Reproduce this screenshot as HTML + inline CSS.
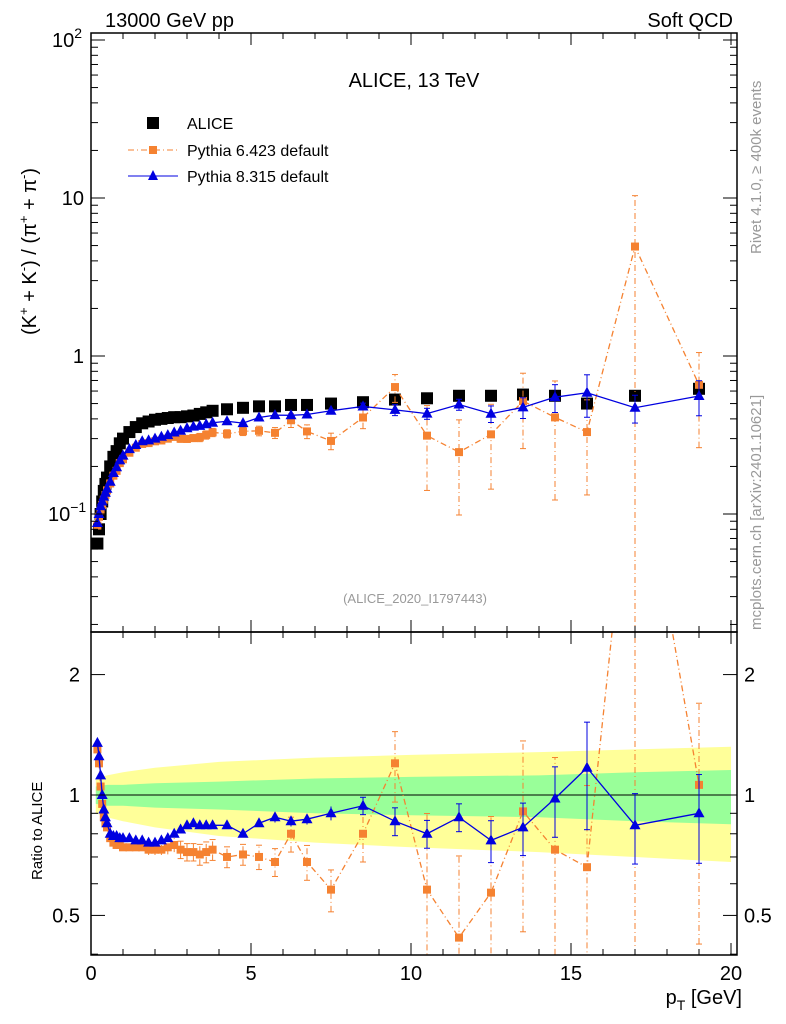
<!DOCTYPE html>
<html><head><meta charset="utf-8"><style>
html,body{margin:0;background:#fff;overflow:hidden;width:786px;height:1024px;}
svg{display:block;font-family:"Liberation Sans",sans-serif;}
</style></head><body>
<svg id="c" width="786" height="1024" viewBox="0 0 786 1024">
<text x="105" y="27" font-size="20">13000 GeV pp</text>
<text x="733" y="27" font-size="20" text-anchor="end">Soft QCD</text>
<text x="414" y="87" font-size="20" text-anchor="middle">ALICE, 13 TeV</text>
<text x="415" y="603" font-size="13" fill="#999" text-anchor="middle">(ALICE_2020_I1797443)</text>
<text transform="translate(761,254) rotate(-90)" font-size="15" fill="#999">Rivet 4.1.0, ≥ 400k events</text>
<text transform="translate(761,630) rotate(-90)" font-size="15" fill="#999">mcplots.cern.ch [arXiv:2401.10621]</text>
<text transform="translate(36,335) rotate(-90)" font-size="20">(K<tspan dy="-8" font-size="13">+</tspan><tspan dy="8"> + K</tspan><tspan dy="-8" font-size="13">-</tspan><tspan dy="8">) / (π</tspan><tspan dy="-8" font-size="13">+</tspan><tspan dy="8"> + π</tspan><tspan dy="-8" font-size="13">-</tspan><tspan dy="8">)</tspan></text>
<text transform="translate(42,880) rotate(-90)" font-size="15">Ratio to ALICE</text>
<text x="742" y="1004" font-size="20" text-anchor="end">p<tspan dy="6" font-size="14">T</tspan><tspan dy="-6"> [GeV]</tspan></text>
<g>
<rect x="147" y="117" width="12" height="12" fill="#000"/>
<text x="187" y="129" font-size="16">ALICE</text>
<line x1="128" y1="150" x2="178" y2="150" stroke="#f58231" stroke-dasharray="6,3,1,3"/>
<rect x="149" y="146" width="8" height="8" fill="#f58231"/>
<text x="187" y="156" font-size="16">Pythia 6.423 default</text>
<line x1="128" y1="176" x2="178" y2="176" stroke="#0000e0"/>
<polygon points="153,170 158,180 148,180" fill="#0000e0"/>
<text x="187" y="182" font-size="16">Pythia 8.315 default</text>
</g>
<g id="g"></g>
</svg>
<script>
const pt=[0.2,0.25,0.3,0.35,0.4,0.45,0.5,0.6,0.7,0.8,0.9,1.0,1.2,1.4,1.6,1.8,2.0,2.2,2.4,2.6,2.8,3.0,3.2,3.4,3.6,3.8,4.25,4.75,5.25,5.75,6.25,6.75,7.5,8.5,9.5,10.5,11.5,12.5,13.5,14.5,15.5,17,19];
const alice=[0.065,0.08,0.1,0.12,0.14,0.155,0.17,0.2,0.23,0.25,0.28,0.3,0.33,0.355,0.375,0.385,0.395,0.4,0.405,0.41,0.41,0.415,0.42,0.43,0.44,0.45,0.46,0.47,0.48,0.48,0.49,0.49,0.5,0.51,0.53,0.54,0.56,0.56,0.57,0.56,0.5,0.56,0.62];
const p8ratio=[1.35,1.25,1.12,1.0,0.92,0.88,0.85,0.8,0.79,0.79,0.78,0.78,0.78,0.77,0.77,0.76,0.76,0.77,0.78,0.8,0.82,0.84,0.85,0.84,0.84,0.84,0.84,0.8,0.85,0.88,0.86,0.87,0.9,0.94,0.86,0.8,0.88,0.77,0.83,0.98,1.17,0.84,0.9];
const p6ratio=[1.3,1.2,1.05,0.95,0.88,0.85,0.83,0.78,0.76,0.75,0.75,0.74,0.74,0.74,0.74,0.73,0.73,0.73,0.74,0.75,0.73,0.72,0.72,0.71,0.72,0.73,0.7,0.71,0.7,0.68,0.8,0.68,0.58,0.8,1.2,0.58,0.44,0.57,0.91,0.73,0.66,8.8,1.06];
const p8err=[0.01,0.01,0.01,0.01,0.01,0.01,0.01,0.01,0.01,0.01,0.01,0.01,0.01,0.01,0.01,0.01,0.01,0.01,0.01,0.01,0.01,0.01,0.01,0.01,0.01,0.01,0.02,0.02,0.02,0.03,0.03,0.03,0.04,0.05,0.08,0.08,0.08,0.12,0.15,0.2,0.3,0.2,0.25];
const p6err=[0.02,0.02,0.02,0.02,0.02,0.02,0.02,0.02,0.02,0.02,0.02,0.02,0.02,0.02,0.02,0.03,0.03,0.03,0.04,0.04,0.05,0.05,0.05,0.06,0.06,0.06,0.06,0.06,0.07,0.08,0.1,0.1,0.12,0.15,0.2,0.55,0.6,0.55,0.5,0.7,0.6,1.1,0.6];
const bandX=[0.15,0.5,1,2,4,7,10,14,17,20];
const greenHalf=[0.05,0.06,0.06,0.07,0.08,0.1,0.11,0.12,0.14,0.155];
const yellowHalf=[0.1,0.12,0.14,0.17,0.21,0.24,0.26,0.28,0.3,0.32];
const X0=91,X1=737,YT=33,YB=632,RT=632,RB=955;
const xs=v=>91+32*v;
const ym=v=>356-158*Math.log10(v);
const yr=v=>795-400*Math.log10(v);
const g=document.getElementById('g');
const NS='http://www.w3.org/2000/svg';
function el(t,a,parent){const e=document.createElementNS(NS,t);for(const k in a)e.setAttribute(k,a[k]);(parent||g).appendChild(e);return e;}
const clipM=el('clipPath',{id:'cm'});el('rect',{x:X0,y:YT,width:X1-X0,height:YB-YT},clipM);
const clipR=el('clipPath',{id:'cr'});el('rect',{x:X0,y:RT,width:X1-X0,height:RB-RT},clipR);
const gm=el('g',{'clip-path':'url(#cm)'});


const gr=el('g',{'clip-path':'url(#cr)'});


function band(h,col,nm){let top=[],bot=[];bandX.forEach((x,i)=>{top.push(xs(x)+','+yr(1+h[i]));bot.unshift(xs(x)+','+yr(1-h[i]));});
const p=el('polygon',{points:top.concat(bot).join(' '),fill:col},gr);

}
band(yellowHalf,'#ffff99','yellow-uncertainty-band');
band(greenHalf,'#99ff99','green-uncertainty-band');
const l1=el('line',{x1:X0,x2:X1,y1:yr(1),y2:yr(1),stroke:'#000'},gr);


function series(ratio,err,col,dash,tri,nm){
  const vals=ratio.map((r,i)=>r*alice[i]);
  [[gm,vals,ym],[gr,ratio,yr]].forEach(([par,v,yf])=>{
    const pl=el('polyline',{points:v.map((y,i)=>xs(pt[i])+','+yf(y)).join(' '),fill:'none',stroke:col,'stroke-width':1.3,'stroke-dasharray':dash},par);
    
    
    v.forEach((y,i)=>{
      const lo=Math.max(y*(1-err[i]),1e-3),hi=y*(1+err[i]);
      const e=el('line',{x1:xs(pt[i]),x2:xs(pt[i]),y1:yf(lo),y2:yf(hi),stroke:col,'stroke-dasharray':dash},par);
      
      
      if(err[i]>0.04){[lo,hi].forEach(q=>{const c=el('line',{x1:xs(pt[i])-3,x2:xs(pt[i])+3,y1:yf(q),y2:yf(q),stroke:col},par);
        
        });}
      const cx=xs(pt[i]),cy=yf(y);let m;
      if(tri)m=el('polygon',{points:`${cx},${cy-6} ${cx+5.5},${cy+4} ${cx-5.5},${cy+4}`,fill:col},par);
      else m=el('rect',{x:cx-4,y:cy-4,width:8,height:8,fill:col},par);
      
      
    });
  });
}
alice.forEach((v,i)=>{const m=el('rect',{x:xs(pt[i])-6,y:ym(v)-6,width:12,height:12,fill:'#000'},gm);
  
  });
series(p6ratio,p6err,'#f58231','6,3,1,3',false,'pythia6');
series(p8ratio,p8err,'#0000e0','',true,'pythia8');
[[YT,YB],[RT,RB]].forEach(([a,b],k)=>{const r=el('rect',{x:X0,y:a,width:X1-X0,height:b-a,fill:'none',stroke:'#000','stroke-width':1.5});
  
  });
for(let v=0;v<=20.2;v+=1){const major=v%5===0,L=major?12:6;
  [[YT,YB],[RT,RB]].forEach(([a,b])=>{el('line',{x1:xs(v),x2:xs(v),y1:b,y2:b-L,stroke:'#000'});el('line',{x1:xs(v),x2:xs(v),y1:a,y2:a+L,stroke:'#000'});});
  if(major){const t=el('text',{x:xs(v),y:980,'font-size':20,'text-anchor':'middle'});t.textContent=v;
    
    }}
for(let d=-2;d<=2;d++)for(let m=1;m<10;m++){const v=m*Math.pow(10,d);const y=ym(v);if(y<YT||y>YB)continue;const L=m===1?14:7;
  el('line',{x1:X0,x2:X0+L,y1:y,y2:y,stroke:'#000'});el('line',{x1:X1,x2:X1-L,y1:y,y2:y,stroke:'#000'});}
[[100,'10','2'],[10,'10',''],[1,'1',''],[0.1,'10','−1']].forEach(([v,b,e])=>{const t=el('text',{x:84,y:ym(v)+7,'font-size':20,'text-anchor':'end'});
  t.textContent=b;if(e){const s=el('tspan',{dy:-9,'font-size':14},t);s.textContent=e;
  t.removeAttribute('text-anchor');t.setAttribute('x',e==='2'?52:48);}
  
  });
[0.4,0.5,0.6,0.7,0.8,0.9,1,2].forEach(v=>{const y=yr(v);const L=(v===0.5||v===1||v===2)?14:7;
  el('line',{x1:X0,x2:X0+L,y1:y,y2:y,stroke:'#000'});el('line',{x1:X1,x2:X1-L,y1:y,y2:y,stroke:'#000'});});
[[2,'2'],[1,'1'],[0.5,'0.5']].forEach(([v,s])=>{[[80,'end'],[744,'start']].forEach(([x,a])=>{const t=el('text',{x:x,y:yr(v)+7,'font-size':20,'text-anchor':a});t.textContent=s;
  
  });});
</script>
</body></html>
